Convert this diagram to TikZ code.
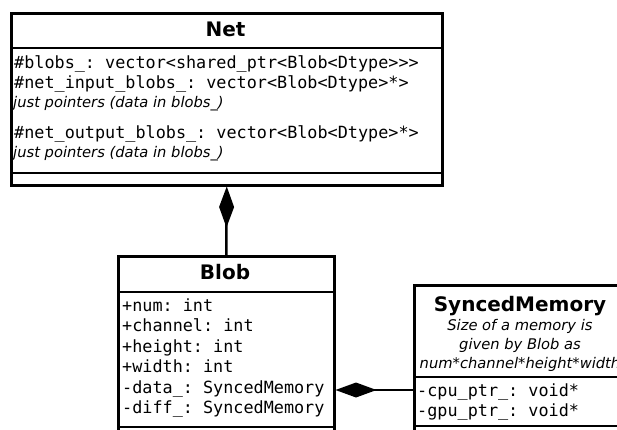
\documentclass[tikz,border=0pt]{standalone}
\usepackage{fontspec}
\setmainfont{DejaVu Sans}
\setmonofont{DejaVu Sans Mono}
\usetikzlibrary{arrows.meta}

\tikzset{
  classbox/.style={draw, line width=2.5pt, fill=white, inner sep=0pt, anchor=north west},
  sepline/.style={line width=2.5pt},
  link/.style={line width=2.5pt},
  comp/.style={link, {Diamond[length=41pt, width=15pt]}-},
  classname/.style={font=\fontsize{20}{24}\selectfont\bfseries, anchor=base, inner sep=0pt},
  attr/.style={font=\fontsize{16.8}{20}\selectfont\ttfamily, anchor=base west, inner sep=0pt},
  note/.style={font=\fontsize{14.7}{19}\selectfont\itshape, anchor=base west, inner sep=0pt},
  notec/.style={note, anchor=base},
}

\begin{document}
\begin{tikzpicture}[x=1pt, y=-1pt]
  \useasboundingbox (0,0) rectangle (617,429);
  \clip (0,0) rectangle (617,429);

  % class Net
  \node[classbox, minimum width=431pt, minimum height=172pt] (net) at (10,12) {};
  \draw[sepline] (net.west |- 0,48) -- (net.east |- 0,48);
  \draw[sepline] (net.west |- 0,173) -- (net.east |- 0,173);
  \node[classname] (netname) at (225.5,36) {Net};
  \node[attr] (netblobs) at (14,68) {\#blobs\_: vector<shared\_ptr<Blob<Dtype>>>};
  \node[attr] (netin) at (14,88) {\#net\_input\_blobs\_: vector<Blob<Dtype>*>};
  \node[note] (netinnote) at (13,107) {just pointers (data in blobs\_)};
  \node[attr] (netout) at (14,138) {\#net\_output\_blobs\_: vector<Blob<Dtype>*>};
  \node[note] (netoutnote) at (13,157) {just pointers (data in blobs\_)};

  % class Blob
  \node[classbox, minimum width=216pt, minimum height=220pt] (blob) at (117,255) {};
  \draw[sepline] (blob.west |- 0,292) -- (blob.east |- 0,292);
  \draw[sepline] (blob.west |- 0,427) -- (blob.east |- 0,427);
  \node[classname] (blobname) at (225,279) {Blob};
  \node[attr] (num) at (122,311) {+num: int};
  \node[attr] (channel) at (122,331.5) {+channel: int};
  \node[attr] (height) at (122,352) {+height: int};
  \node[attr] (width) at (122,372.5) {+width: int};
  \node[attr] (data) at (122,393) {-data\_: SyncedMemory};
  \node[attr] (diff) at (122,413.5) {-diff\_: SyncedMemory};

  % class SyncedMemory
  \node[classbox, minimum width=214pt, minimum height=200pt] (sm) at (413,284) {};
  \draw[sepline] (sm.west |- 0,377) -- (sm.east |- 0,377);
  \draw[sepline] (sm.west |- 0,426) -- (sm.east |- 0,426);
  \node[classname] (smname) at (520,311) {SyncedMemory};
  \node[notec] (smnote1) at (520,330) {Size of a memory is};
  \node[notec] (smnote2) at (520,349) {given by Blob as};
  \node[notec] (smnote3) at (520,368) {num*channel*height*width};
  \node[attr] (cpu) at (417,396) {-cpu\_ptr\_: void*};
  \node[attr] (gpu) at (417,416) {-gpu\_ptr\_: void*};

  % compositions
  \coordinate (dataport) at (0,390);
  \draw[comp] (net.south) -- (blob.north);
  \draw[comp] (blob.east |- dataport) -- (sm.west |- dataport);
\end{tikzpicture}
\end{document}
